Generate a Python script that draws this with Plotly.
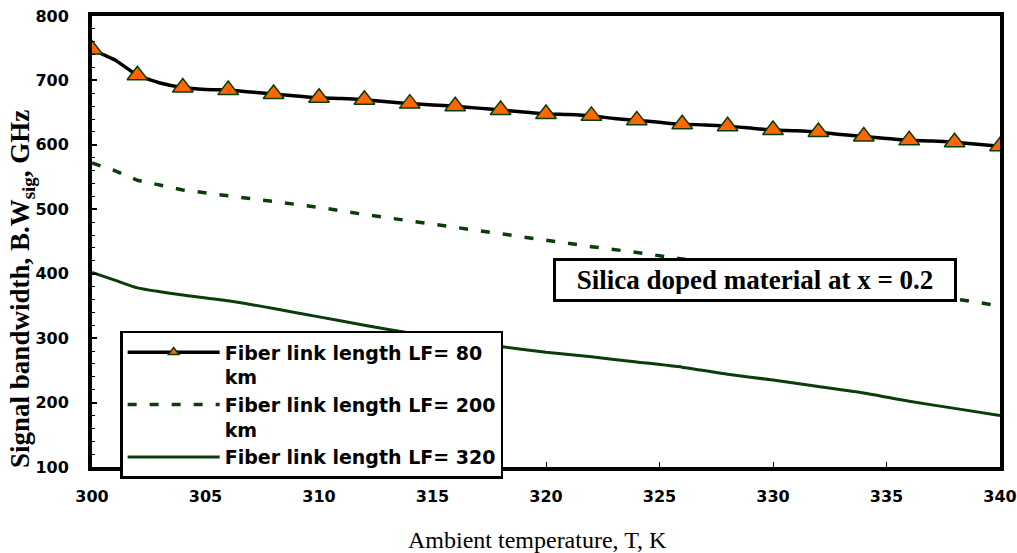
import plotly.graph_objects as go

# Data
temp_80 = list(range(300, 341))
bw_80 = [748, 732, 708, 696, 689, 686, 685, 682, 679, 676, 673, 672, 670, 667, 664, 662,
         660, 657, 654, 651, 648, 647, 645, 641, 638, 635, 632, 631, 629, 626, 623, 622,
         620, 616, 613, 610, 607, 606, 604, 601, 598]
temp_200 = [300, 301, 302, 304, 306, 308, 310, 312, 314, 316, 318, 320, 322, 324, 326, 328,
            330, 332, 334, 336, 338, 340]
bw_200 = [572, 560, 545, 530, 521, 512, 503, 492, 482, 472, 462, 451, 442, 433, 423, 413,
          403, 393, 382, 372, 361, 350]
temp_320 = [300, 301, 302, 303, 304, 306, 308, 310, 312, 314, 316, 318, 320, 322, 324, 326,
            328, 330, 332, 334, 336, 338, 340]
bw_320 = [402, 390, 378, 372, 367, 358, 346, 333, 320, 308, 297, 287, 278, 271, 263, 255,
          244, 235, 225, 215, 202, 191, 180]

names = ["Fiber link length LF= 80<br>km", "Fiber link length LF= 200<br>km",
         "Fiber link length LF= 320"]
x_ticks = [300, 305, 310, 315, 320, 325, 330, 335, 340]
y_ticks = [100, 200, 300, 400, 500, 600, 700, 800]

GREEN = "#0a3d0a"
ORANGE = "#ff6600"
SERIF = "Times New Roman, Liberation Serif, serif"
SANS = "DejaVu Sans, Arial, sans-serif"

fig = go.Figure()
msizes = [18 if (t % 2 == 0) else 0 for t in temp_80]
fig.add_trace(go.Scatter(
    x=temp_80, y=bw_80, mode="lines+markers", name=names[0],
    line=dict(color="black", width=3.5, shape="spline", smoothing=0.4),
    marker=dict(symbol="triangle-up", size=msizes, color=ORANGE, opacity=1,
                line=dict(color=GREEN, width=1.5)),
))
fig.add_trace(go.Scatter(
    x=temp_200, y=bw_200, mode="lines", name=names[1],
    line=dict(color=GREEN, width=3.5, dash="9px,13px"),
))
fig.add_trace(go.Scatter(
    x=temp_320, y=bw_320, mode="lines", name=names[2],
    line=dict(color=GREEN, width=3, shape="spline", smoothing=0.5),
))

tickfont = dict(family=SANS, size=16, color="black", weight="bold")

fig.update_layout(
    width=1017, height=553,
    margin=dict(l=92, r=17, t=16, b=86, autoexpand=False),
    paper_bgcolor="white", plot_bgcolor="white",
    showlegend=True,
    legend=dict(
        x=0.031, y=0.302, xanchor="left", yanchor="top",
        bgcolor="white", bordercolor="black", borderwidth=2.5,
        font=dict(family=SANS, size=19, color="black", weight="bold"),
        valign="top", tracegroupgap=0, itemwidth=92,
    ),
    xaxis=dict(
        range=[300, 340], tickvals=x_ticks, ticktext=[str(v) for v in x_ticks],
        showgrid=False, zeroline=False, automargin=False,
        showline=True, linecolor="black", linewidth=4, mirror=True,
        ticks="inside", ticklen=5, tickcolor="black", tickwidth=1,
        tickfont=tickfont, ticklabelstandoff=12,
    ),
    yaxis=dict(
        range=[100, 800], tickvals=y_ticks,
        showgrid=False, zeroline=False, automargin=False,
        showline=True, linecolor="black", linewidth=4, mirror=True,
        ticks="inside", ticklen=5, tickcolor="black", tickwidth=1.5,
        minor=dict(ticks="inside", ticklen=3, dtick=20, tickcolor="black", tickwidth=1),
        tickfont=tickfont, ticklabelstandoff=16,
    ),
    annotations=[
        dict(
            x=0.508, y=0.366, xref="paper", yref="paper", xanchor="left", yanchor="bottom",
            text="Silica doped material at x = 0.2", showarrow=False,
            font=dict(family=SERIF, size=27, color="black", weight="bold"),
            bgcolor="white", bordercolor="black", borderwidth=3, borderpad=5,
            width=388, height=28,
        ),
        dict(
            x=-0.077, y=0.395, xref="paper", yref="paper", xanchor="center", yanchor="middle",
            text="Signal bandwidth, B.W<sub>sig</sub>, GHz", showarrow=False, textangle=-90,
            font=dict(family=SERIF, size=27, color="black", weight="bold"),
        ),
        dict(
            x=0.491, y=-0.162, xref="paper", yref="paper", xanchor="center", yanchor="middle",
            text="Ambient temperature, T, K", showarrow=False,
            font=dict(family=SERIF, size=24, color="black"),
        ),
    ],
)

fig.write_html("out.html")
